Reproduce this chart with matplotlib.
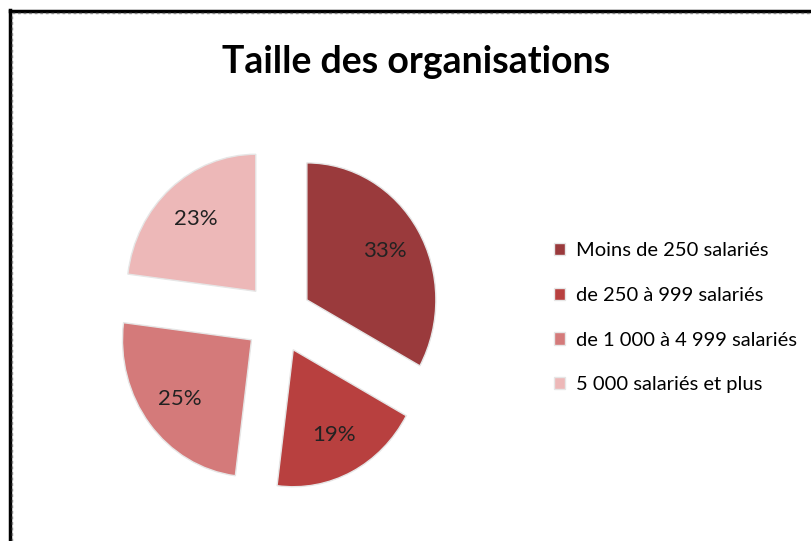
import matplotlib
matplotlib.use('Agg')
import matplotlib.pyplot as plt
from matplotlib.lines import Line2D

plt.rcParams['font.family'] = ['Lato', 'DejaVu Sans']

categories = ['Moins de 250 salariés', 'de 250 à 999 salariés',
              'de 1 000 à 4 999 salariés', '5 000 salariés et plus']
values = [33, 19, 25, 23]
colors = ['#9a3a3c', '#b8403f', '#d47a7a', '#edb8b8']

W, H = 812, 541
fig = plt.figure(figsize=(W / 100, H / 100), dpi=100)

# pie placed by pixel: centre (278, 318); the original is slightly squashed
# horizontally, so radius 129 px across and 137 px up
rx, ry = 129, 137
cx, cy = 278, H - 318
ax = fig.add_axes([(cx - 1.5 * rx) / W, (cy - 1.5 * ry) / H, 3 * rx / W, 3 * ry / H])

wedges, texts, autotexts = ax.pie(
    values, colors=colors, startangle=90, counterclock=False,
    explode=[0.26] * 4, autopct='%1.0f%%', pctdistance=0.7,
    wedgeprops=dict(edgecolor='#e6e6e6', linewidth=1),
    textprops=dict(fontsize=16, color='#222222'))
ax.set_xlim(-1.5, 1.5)
ax.set_ylim(-1.5, 1.5)
ax.set_aspect('auto')
ax.axis('off')

fig.text(416 / W, 1 - 62 / H, 'Taille des organisations', ha='center', va='center',
         fontsize=27, fontweight='bold', color='#000000')

fig.legend(wedges, categories, loc='upper left',
           bbox_to_anchor=(546 / W, 1 - 234 / H), frameon=False,
           fontsize=14.5, labelspacing=1.38, handlelength=0.55, handleheight=0.55,
           handletextpad=0.55, borderaxespad=0)

# frame: thick black line on left and top, dashed grey inside
fig.add_artist(Line2D([10.5 / W, 10.5 / W], [0, 1 - 10 / H], color='black', lw=2.5))
fig.add_artist(Line2D([10 / W, 1], [1 - 10.5 / H, 1 - 10.5 / H], color='black', lw=2.5))
fig.add_artist(Line2D([12.5 / W, 12.5 / W], [0, 1 - 12.5 / H], color='#888888', lw=1, ls=(0, (2, 2))))
fig.add_artist(Line2D([12.5 / W, 1], [1 - 12.5 / H, 1 - 12.5 / H], color='#888888', lw=1, ls=(0, (2, 2))))

fig.savefig('out.png', dpi=100)
